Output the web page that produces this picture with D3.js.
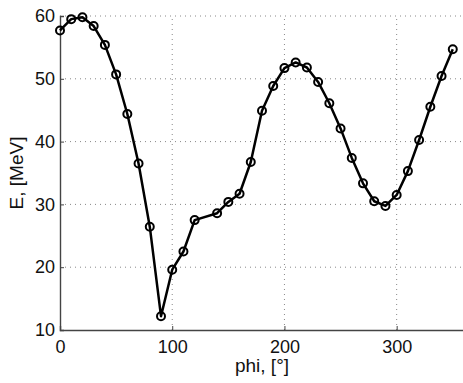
<!DOCTYPE html>
<html>
<head>
<meta charset="utf-8">
<script src="https://cdn.jsdelivr.net/npm/d3@7"></script>
<style>
  body { margin: 0; background: #fff; }
  text { font-family: "Liberation Sans", Arial, sans-serif; fill: #111; }
</style>
</head>
<body>
<div id="chart"></div>
<script>
// angle (deg) and energy values
let phi = [0, 10, 20, 30, 40, 50, 60, 70, 80, 90, 100, 110, 120,
           140, 150, 160, 170, 180, 190, 200, 210, 220, 230, 240, 250,
           260, 270, 280, 290, 300, 310, 320, 330, 340, 350];
let energy = [57.7, 59.5, 59.8, 58.4, 55.4, 50.7, 44.4, 36.5, 26.45, 12.2, 19.6, 22.5, 27.5,
              28.6, 30.4, 31.7, 36.75, 44.9, 48.85, 51.7, 52.6, 51.8, 49.5, 46.1, 42.1,
              37.4, 33.35, 30.5, 29.75, 31.5, 35.3, 40.25, 45.55, 50.45, 54.7];
let xTicks = [0, 100, 200, 300];
let yTicks = [10, 20, 30, 40, 50, 60];

let width = 463, height = 383;
let margin = {top: 16, right: -1, bottom: 53, left: 60};

let svg = d3.select("#chart").append("svg")
    .attr("width", width)
    .attr("height", height);

let x = d3.scaleLinear().domain([0, 360]).range([margin.left, width - margin.right]);
let y = d3.scaleLinear().domain([10, 60]).range([height - margin.bottom, margin.top]);

// grid lines
svg.append("g")
    .selectAll("line")
    .data(xTicks.filter(d => d > 0))
    .join("line")
    .attr("x1", d => x(d)).attr("x2", d => x(d))
    .attr("y1", y(10)).attr("y2", y(60))
    .attr("stroke", "#888").attr("stroke-width", 1)
    .attr("stroke-dasharray", "1,4");

svg.append("g")
    .selectAll("line")
    .data(yTicks.filter(d => d > 10))
    .join("line")
    .attr("x1", x(0)).attr("x2", width)
    .attr("y1", d => y(d)).attr("y2", d => y(d))
    .attr("stroke", "#888").attr("stroke-width", 1)
    .attr("stroke-dasharray", "1,4");

// axes
let xAxis = d3.axisBottom(x).tickValues(xTicks).tickSize(-4);
let gx = svg.append("g")
    .attr("transform", `translate(0, ${y(10)})`)
    .call(xAxis);
gx.select(".domain").attr("stroke", "#444").attr("stroke-width", 1.4);
gx.selectAll(".tick line").attr("stroke", "#444");
gx.selectAll("text").attr("font-size", 18).attr("y", 23).attr("dy", null);

let yAxis = d3.axisLeft(y).tickValues(yTicks).tickSize(-4).tickPadding(5);
let gy = svg.append("g")
    .attr("transform", `translate(${x(0)}, 0)`)
    .call(yAxis);
gy.select(".domain").attr("stroke", "#444").attr("stroke-width", 1.4);
gy.selectAll(".tick line").attr("stroke", "#444");
gy.selectAll("text").attr("font-size", 18);

// axis labels
svg.append("text")
    .attr("x", (x(0) + x(360)) / 2)
    .attr("y", 372)
    .attr("text-anchor", "middle")
    .attr("font-size", 19)
    .text("phi, [°]");

svg.append("text")
    .attr("transform", `translate(23, ${(y(10) + y(60)) / 2}) rotate(-90)`)
    .attr("text-anchor", "middle")
    .attr("font-size", 19)
    .text("E, [MeV]");

// data line
let pts = phi.map((p, i) => [p, energy[i]]);
let line = d3.line().x(d => x(d[0])).y(d => y(d[1]));

svg.append("path")
    .datum(pts)
    .attr("d", line)
    .attr("fill", "none")
    .attr("stroke", "#000")
    .attr("stroke-width", 2.5)
    .attr("stroke-linejoin", "round");

svg.append("g")
    .selectAll("circle")
    .data(pts)
    .join("circle")
    .attr("cx", d => x(d[0]))
    .attr("cy", d => y(d[1]))
    .attr("r", 4)
    .attr("fill", "none")
    .attr("stroke", "#000")
    .attr("stroke-width", 2);
</script>
</body>
</html>
